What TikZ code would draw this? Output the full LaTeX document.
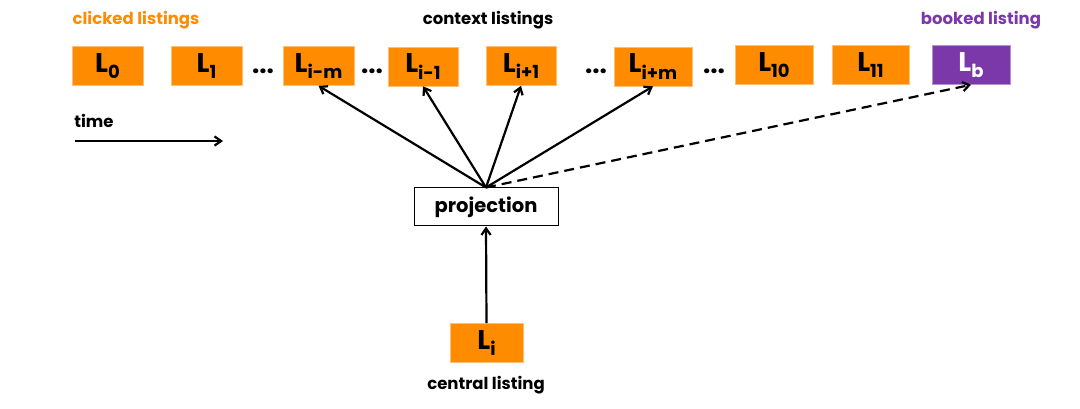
\documentclass[tikz,border=0pt]{standalone}
\usepackage{fontspec}
\setmainfont{Poppins}
\usetikzlibrary{arrows.meta}
\definecolor{orng}{RGB}{255,140,0}
\definecolor{purp}{RGB}{122,56,168}
\newcommand{\sbs}[1]{\raisebox{-0.45ex}{\fontsize{18}{18}\selectfont #1}}
\begin{document}
\begin{tikzpicture}[x=1pt,y=-1pt,
  lbox/.style={fill=orng, draw=orng!55, line width=0.6pt, minimum width=#1, minimum height=39, inner sep=0, font=\bfseries\fontsize{27}{27}\selectfont},
  bbox/.style={fill=purp, draw=purp!55, line width=0.6pt, minimum width=#1, minimum height=39, inner sep=0, text=white, font=\bfseries\fontsize{27}{27}\selectfont},
  lbl/.style={font=\bfseries\fontsize{16.5}{16.5}\selectfont, inner sep=0},
  dots/.style={font=\bfseries\fontsize{26}{26}\selectfont, inner sep=0},
  arr/.style={line width=2.2pt, -{Straight Barb[angle=70:8pt]}},
  darr/.style={arr, dash pattern=on 10pt off 6pt}]
\useasboundingbox (0,0) rectangle (1080,409);
\node[lbl, text=orng] (tclick) at (136,20) {clicked listings};
\node[lbl] (tctx) at (488,20) {context listings};
\node[lbl, text=purp] (tbook) at (981,20) {booked listing};

\node[lbox=71] (L0) at (107.5,66) {L\sbs{0}};
\node[lbox=71] (L1) at (206.5,66) {L\sbs{1}};
\node[dots] (d1) at (263,71) {...};
\node[lbox=71] (Lim) at (318.5,66) {L\sbs{i-m}};
\node[dots] (d2) at (372,71) {...};
\node[lbox=70] (Li1) at (423,66.5) {L\sbs{i-1}};
\node[lbox=70] (Lip1) at (521,66) {L\sbs{i+1}};
\node[dots] (d3) at (596,71) {...};
\node[lbox=78] (Lip) at (653,66.5) {L\sbs{i+m}};
\node[dots] (d4) at (714,71) {...};
\node[lbox=78] (L10) at (774,65) {L\sbs{10}};
\node[lbox=77] (L11) at (870.5,65) {L\sbs{11}};
\node[bbox=78] (Lb) at (971,65) {L\sbs{b}};

\node[lbl] (ttime) at (94,121) {time};
\coordinate (ta) at (75,141);
\coordinate (tb) at (223,141);
\draw[arr] (ta) -- (tb);

\node[draw, line width=1pt, fill=white, minimum width=144, minimum height=38, inner sep=0, font=\bfseries\fontsize{19.5}{19.5}\selectfont] (proj) at (486,207) {projection};

\node[lbox=73] (Li) at (486.5,343) {L\sbs{i}};
\node[lbl] (tcent) at (486,385) {central listing};

\draw[arr] (Li.north) -- (proj.south);
\draw[arr] (proj.north) -- (Lim.south);
\draw[arr] (proj.north) -- (Li1.south);
\draw[arr] (proj.north) -- (Lip1.south);
\draw[arr] (proj.north) -- (Lip.south);
\draw[darr] (proj.north) -- (Lb.south);
\end{tikzpicture}
\end{document}
